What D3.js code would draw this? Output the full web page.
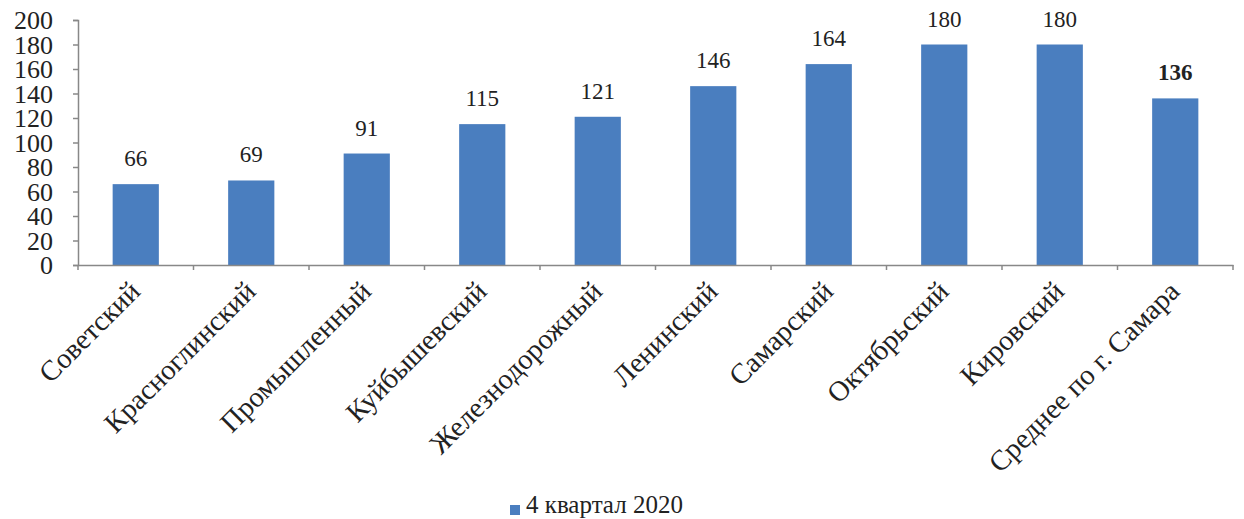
<!DOCTYPE html>
<html><head><meta charset="utf-8">
<script src="https://cdn.jsdelivr.net/npm/d3@7"></script>
<style>body{margin:0;background:#fff}svg{display:block}text{font-family:"Liberation Serif","Times New Roman",serif;fill:#222}</style>
</head><body><svg id="c" width="1244" height="519"></svg>
<script>
const categories = ["Советский","Красноглинский","Промышленный","Куйбышевский","Железнодорожный","Ленинский","Самарский","Октябрьский","Кировский","Среднее по г. Самара"];
const values = [66, 69, 91, 115, 121, 146, 164, 180, 180, 136];
const yTicks = [0,20,40,60,80,100,120,140,160,180,200];
const seriesName = "4 квартал 2020";

const serif = '"Liberation Serif","Times New Roman",serif';
const svg = d3.select("#c");
const plotLeft = 78, plotRight = 1233, plotTop = 20, plotBottom = 265;

const x = d3.scaleBand().domain(categories).range([plotLeft, plotRight]).paddingInner(0.6).paddingOuter(0.3);
const xb = d3.scaleBand().domain(categories).range([plotLeft, plotRight]);
const y = d3.scaleLinear().domain([0, 200]).range([plotBottom, plotTop]);

// value axis
const ya = svg.append("g").attr("transform", `translate(${plotLeft},0)`)
  .call(d3.axisLeft(y).tickValues(yTicks).tickSize(5).tickPadding(20))
  .attr("font-family", serif);
ya.select(".domain").attr("stroke", "#888").attr("stroke-width", 1.5);
ya.selectAll(".tick line").attr("stroke", "#888").attr("stroke-width", 1.5);
ya.selectAll(".tick text").style("font-size", "26px").style("font-family", serif).attr("fill", "#222").attr("dy", "0.34em");

// bars
svg.selectAll("rect.bar").data(values).enter().append("rect")
  .attr("class", "bar")
  .attr("x", (d, i) => x(categories[i]))
  .attr("width", x.bandwidth())
  .attr("y", d => y(d))
  .attr("height", d => y(0) - y(d))
  .attr("fill", "#4a7ebf");

// category axis
const xa = svg.append("g").attr("transform", `translate(0,${plotBottom})`)
  .call(d3.axisBottom(xb).tickSize(0).tickFormat(""));
xa.select(".domain").attr("stroke", "#888").attr("stroke-width", 1.5);
const edges = d3.range(categories.length + 1).map(i => plotLeft + i * xb.step());
svg.selectAll("line.edge").data(edges).enter().append("line")
  .attr("x1", d => d).attr("x2", d => d)
  .attr("y1", plotBottom).attr("y2", plotBottom + 5)
  .attr("stroke", "#888").attr("stroke-width", 1.5);

// category labels
svg.selectAll("text.cat").data(categories).enter().append("text")
  .attr("class", "cat")
  .attr("text-anchor", "end")
  .attr("transform", d => `translate(${xb(d) + xb.bandwidth() / 2 + 6},${plotBottom + 28}) rotate(-45)`)
  .style("font-size", "28.5px")
  .text(d => d);

// value labels
svg.selectAll("text.val").data(values).enter().append("text")
  .attr("class", "val")
  .attr("text-anchor", "middle")
  .attr("x", (d, i) => x(categories[i]) + x.bandwidth() / 2)
  .attr("y", d => y(d) - 18)
  .style("font-size", "23px")
  .style("font-weight", (d, i) => i === categories.length - 1 ? "bold" : "normal")
  .text(d => d);

// legend
const lg = svg.append("g").attr("transform", "translate(510,505)");
lg.append("rect").attr("x", 0).attr("y", 0).attr("width", 10).attr("height", 10).attr("fill", "#4a7ebf");
lg.append("text").attr("x", 16).attr("y", 8).style("font-size", "25px").text(seriesName);
</script></body></html>
